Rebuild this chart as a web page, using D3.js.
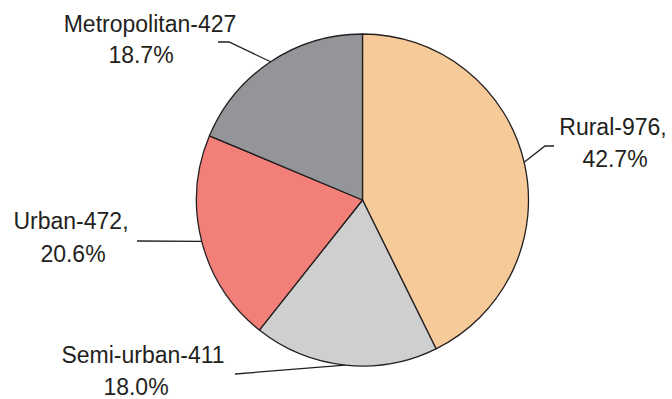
<!DOCTYPE html>
<html>
  <head>
    <meta charset="utf-8">
    <title>Distribution by Area Type</title>
    <script src="https://d3js.org/d3.v7.min.js"></script>
    <style>
      body {
        margin: 0;
        background: #fff;
      }
      text {
        font-family: "Liberation Sans", Arial, sans-serif;
        font-size: 23px;
        fill: #231f20;
      }
    </style>
  </head>
  <body>
    <div id="pie-chart"></div>
    <script>
      // data, clockwise from 12 o'clock
      const categories = ["Rural", "Semi-urban", "Urban", "Metropolitan"];
      const counts = [976, 411, 472, 427];
      const percents = ["42.7%", "18.0%", "20.6%", "18.7%"];
      const sep = [",", "", ",", ""];
      const colors = ["#f7ca9a", "#cfcfcf", "#f27f78", "#939598"];

      // label placement (text line centres/baselines, leader line end points)
      const labelLayout = [
        { lines: [[613, 135], [615, 167]], path: [[545, 146], [554, 146]] },
        { lines: [[143, 363], [136, 395]], path: [[235, 374]] },
        { lines: [[71, 229], [73, 262]], path: [[137, 241]] },
        { lines: [[150, 32], [141, 63]], path: [[229, 42], [218, 42]] }
      ];

      const width = 672, height = 399;
      const cx = 362.5, cy = 200, radius = 166;

      const svg = d3.select("#pie-chart")
        .append("svg")
          .attr("width", width)
          .attr("height", height);

      const data = categories.map((c, i) => ({ name: c, value: counts[i], i: i }));

      const pie = d3.pie()
        .sort(null)
        .value(d => d.value);
      const arcs = pie(data);

      const arc = d3.arc()
        .innerRadius(0)
        .outerRadius(radius);

      const g = svg.append("g")
        .attr("transform", "translate(" + cx + "," + cy + ")");

      g.selectAll("path.slice")
        .data(arcs)
        .enter()
        .append("path")
          .attr("class", "slice")
          .attr("d", arc)
          .attr("fill", d => colors[d.data.i])
          .attr("stroke", "#231f20")
          .attr("stroke-width", 1.3)
          .attr("stroke-linejoin", "round");

      // leader lines start at the slice's mid angle on the rim
      const line = d3.line();
      arcs.forEach(d => {
        const a = (d.startAngle + d.endAngle) / 2;
        const start = [cx + radius * Math.sin(a), cy - radius * Math.cos(a)];
        const pts = [start].concat(labelLayout[d.data.i].path);
        svg.append("path")
          .attr("d", line(pts))
          .attr("fill", "none")
          .attr("stroke", "#231f20")
          .attr("stroke-width", 1.3);
      });

      // labels
      data.forEach((d, i) => {
        const texts = [d.name + "-" + d.value + sep[i], percents[i]];
        labelLayout[i].lines.forEach((p, k) => {
          svg.append("text")
            .attr("x", p[0])
            .attr("y", p[1])
            .attr("text-anchor", "middle")
            .text(texts[k]);
        });
      });
    </script>
  </body>
</html>
